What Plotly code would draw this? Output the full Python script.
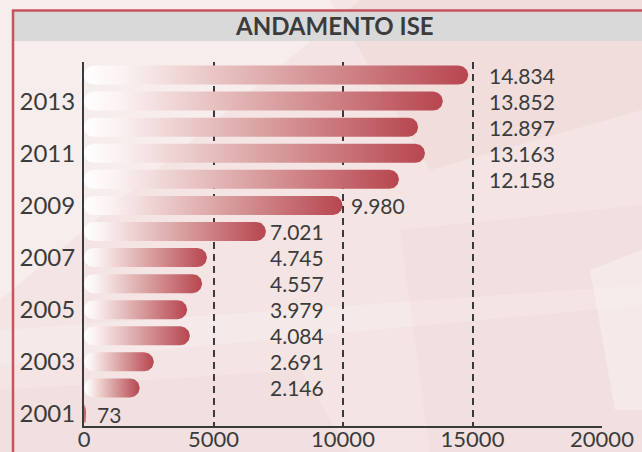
import numpy as np
import plotly.graph_objects as go

# ---- data ----
years = [2001, 2002, 2003, 2004, 2005, 2006, 2007, 2008, 2009, 2010, 2011, 2012, 2013, 2014]
values = [73, 2146, 2691, 4084, 3979, 4557, 4745, 7021, 9980, 12158, 13163, 12897, 13852, 14834]
# bar whose end each value label is aligned to (as in the original)
label_align_year = [2001, 2008, 2008, 2008, 2008, 2008, 2008, 2008, 2009, 2014, 2014, 2014, 2014, 2014]
year_ticks = [2001, 2003, 2005, 2007, 2009, 2011, 2013]
x_ticks = [0, 5000, 10000, 15000, 20000]
title_text = "ANDAMENTO ISE"

# ---- geometry helpers (layout) ----
W_PX, H_PX = 642, 452
L, R, T, B = 84, 602, 62, 426
XR = (0, 20000)
YR = (2000.54, 2014.5)
px_per_x = (R - L) / (XR[1] - XR[0])
px_per_y = (B - T) / (YR[1] - YR[0])


def px2x(px):
    return (px - L) / (R - L)


def py2y(py):
    return (B - py) / (B - T)


FONT = "Lato"
TXT = "#3b3b3b"
AX = "#3a3a3a"

fig = go.Figure()

half_px = 9.5
ry = half_px / px_per_y
rx_full = half_px / px_per_x
for yr, v in zip(years, values):
    rx = min(rx_full, v / 2)
    t1 = np.linspace(-np.pi / 2, np.pi / 2, 30)
    t2 = np.linspace(np.pi / 2, 3 * np.pi / 2, 30)
    xs = np.concatenate([v - rx + rx * np.cos(t1), rx + rx * np.cos(t2)])
    ys = np.concatenate([yr + ry * np.sin(t1), yr + ry * np.sin(t2)])
    xs = np.append(xs, xs[0])
    ys = np.append(ys, ys[0])
    small = v < 500
    fig.add_trace(go.Scatter(
        x=xs, y=ys, mode="lines", fill="toself",
        line=dict(width=0, color="rgba(0,0,0,0)"),
        fillgradient=dict(type="horizontal",
                          colorscale=([[0, "#c65560"], [1, "#b7464f"]] if small else
                                      [[0, "#ffffff"], [0.1, "#fbf2f2"], [0.5, "#dca7a7"], [1, "#b7464f"]])),
        hoverinfo="skip", showlegend=False,
    ))

val_by_year = dict(zip(years, values))
shift_by_anchor = {2001: 9, 2008: 2, 2009: 7, 2014: 19}
for yr, v, a in zip(years, values, label_align_year):
    txt = f"{v:,}".replace(",", ".")
    fig.add_annotation(x=val_by_year[a], y=yr, text=txt, showarrow=False,
                       xanchor="left", yanchor="middle", xshift=shift_by_anchor[a],
                       font=dict(family=FONT, size=21, color=TXT))

shapes = []
# background decoration (soft diagonal light streaks)
bg = [
    ([(0, 0), (360, 0), (0, 300)], "rgba(255,255,255,0.35)"),
    ([(330, 0), (642, 0), (642, 110), (430, 170)], "rgba(225,170,170,0.10)"),
    ([(0, 330), (642, 285), (642, 305), (0, 365)], "rgba(255,255,255,0.2)"),
    ([(400, 230), (642, 205), (642, 452), (430, 452)], "rgba(225,175,175,0.08)"),
    ([(590, 270), (642, 250), (642, 410), (615, 410)], "rgba(255,255,255,0.3)"),
    ([(0, 390), (300, 370), (350, 452), (0, 452)], "rgba(230,180,180,0.08)"),
]
for pts, col in bg:
    path = "M " + " L ".join(f"{px2x(p[0]):.4f},{py2y(p[1]):.4f}" for p in pts) + " Z"
    shapes.append(dict(type="path", path=path, xref="paper", yref="paper",
                       fillcolor=col, line=dict(width=0), layer="below"))

# title band and frame
shapes.append(dict(type="rect", xref="paper", yref="paper",
                   x0=px2x(13), x1=px2x(650), y0=py2y(41), y1=py2y(11),
                   fillcolor="#d9d9d9", line=dict(width=0), layer="below"))
shapes.append(dict(type="rect", xref="paper", yref="paper",
                   x0=px2x(13), x1=px2x(660), y0=py2y(470), y1=py2y(10.5),
                   fillcolor="rgba(0,0,0,0)", line=dict(color="#c6535d", width=2.5), layer="below"))

fig.add_annotation(x=px2x(334), y=py2y(26), xref="paper", yref="paper",
                   text=f"<b>{title_text}</b>", showarrow=False,
                   xanchor="center", yanchor="middle",
                   font=dict(family=FONT, size=24, color=TXT))

fig.update_layout(
    width=W_PX, height=H_PX,
    margin=dict(l=L, r=W_PX - R, t=T, b=H_PX - B, pad=0, autoexpand=False),
    paper_bgcolor="#f4e4e4", plot_bgcolor="rgba(0,0,0,0)",
    shapes=shapes, showlegend=False,
    xaxis=dict(range=list(XR), tickvals=x_ticks, ticktext=[str(t) for t in x_ticks],
               automargin=False,
               showgrid=True, griddash="7px,5px", gridcolor=AX, gridwidth=1.5,
               zeroline=False, showline=True, linecolor=AX, linewidth=2,
               ticks="", ticklabelstandoff=-7,
               tickfont=dict(family=FONT, size=22, color=TXT), fixedrange=True),
    yaxis=dict(range=list(YR), tickvals=year_ticks, ticktext=[str(t) for t in year_ticks],
               automargin=False,
               showgrid=False, zeroline=False, showline=True, linecolor=AX, linewidth=2,
               ticks="", ticklabelstandoff=2,
               tickfont=dict(family=FONT, size=24, color=TXT), fixedrange=True),
)

fig.write_html("out.html", config={"displayModeBar": False},
               post_script="document.body.style.margin='0';document.body.style.overflow='hidden';")
